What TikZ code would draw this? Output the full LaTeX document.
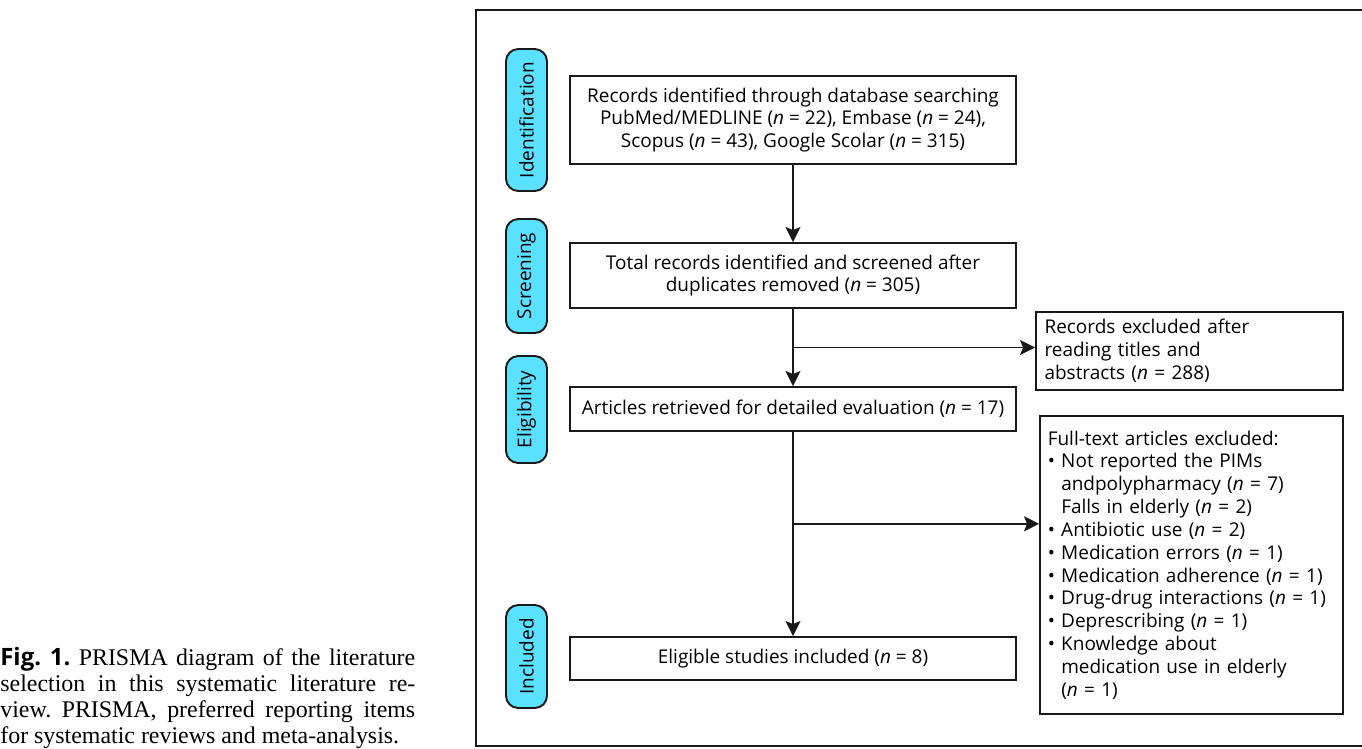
\documentclass[tikz,border=0pt]{standalone}
\usepackage{fontspec}
\setmainfont{Liberation Serif}
\newfontfamily\boxfont{Open Sans}
\usepackage{tikz}
\usetikzlibrary{arrows.meta, positioning, calc}
\definecolor{pillcyan}{RGB}{90,225,255}
\definecolor{lineblack}{RGB}{25,25,25}

\begin{document}
\begin{tikzpicture}[x=0.02cm, y=-0.02cm,
    stagebox/.style={draw=lineblack, line width=1.1pt, fill=white, font=\boxfont\fontsize{10.8}{13}\selectfont, align=center, inner sep=2pt},
    exclbox/.style={draw=lineblack, line width=1.1pt, fill=white, font=\boxfont\fontsize{10.8}{13}\selectfont, align=left, inner sep=2pt},
    phasepill/.style={draw=lineblack, line width=1.1pt, fill=pillcyan, rounded corners=7pt, rotate=90, font=\boxfont\fontsize{10.8}{13}\selectfont, minimum height=0.82cm, inner sep=1pt},
    flowarrow/.style={-{Stealth[length=0.3cm, width=0.3cm, inset=0.06cm]}, line width=1.1pt, lineblack}]
    \useasboundingbox (0,0) rectangle (1362,748);

    % Outer frame (open to the right)
    \draw[lineblack, line width=0.8pt] (1380,10) -- (476,10) -- (476,746) -- (1380,746);

    % Caption
    \node[anchor=south west, inner sep=0pt, text width=8.3cm, align=justify, font=\fontsize{13.6}{14.8}\selectfont\frenchspacing] (caption) at (0,749)
        {{\boxfont\bfseries Fig.~1.} PRISMA diagram of the literature\linebreak selection in this systematic literature re-\linebreak view. PRISMA, preferred reporting items\linebreak for systematic reviews and meta-analysis.};

    % Main column
    \node[stagebox, minimum width=8.92cm, minimum height=1.76cm] (records) at (793,120)
        {Records identified through database searching\\PubMed/MEDLINE (\textit{n} = 22), Embase (\textit{n} = 24),\\Scopus (\textit{n} = 43), Google Scolar (\textit{n} = 315)};
    \node[stagebox, minimum width=8.92cm, minimum height=1.3cm] (screened) at (793,275.5)
        {Total records identified and screened after\\duplicates removed (\textit{n} = 305)};
    \node[stagebox, minimum width=8.92cm, minimum height=0.88cm] (retrieved) at (793,409)
        {Articles retrieved for detailed evaluation (\textit{n} = 17)};
    \node[stagebox, minimum width=8.92cm, minimum height=0.86cm] (included) at (793,658.5)
        {Eligible studies included (\textit{n} = 8)};

    % Exclusion boxes
    \node[exclbox, text width=5.8cm, minimum width=6.14cm, minimum height=1.56cm] (excl1) at (1189.5,351)
        {Records excluded after\\reading titles and\\abstracts (\textit{n} = 288)};
    \node[exclbox, text width=5.75cm, minimum width=6.06cm, minimum height=5.96cm] (excl2) at (1191.5,565)
        {Full-text articles excluded:\\
         \textbullet\ Not reported the PIMs\\
         \hphantom{\textbullet\ }andpolypharmacy (\textit{n} = 7)\\
         \hphantom{\textbullet\ }Falls in elderly (\textit{n} = 2)\\
         \textbullet\ Antibiotic use (\textit{n} = 2)\\
         \textbullet\ Medication errors (\textit{n} = 1)\\
         \textbullet\ Medication adherence (\textit{n} = 1)\\
         \textbullet\ Drug-drug interactions (\textit{n} = 1)\\
         \textbullet\ Deprescribing (\textit{n} = 1)\\
         \textbullet\ Knowledge about\\
         \hphantom{\textbullet\ }medication use in elderly\\
         \hphantom{\textbullet\ }(\textit{n} = 1)};

    % Phase labels
    \node[phasepill, minimum width=2.84cm] (identification) at (526.5,120) {Identification};
    \node[phasepill, minimum width=2.28cm] (screening) at (526.5,276) {Screening};
    \node[phasepill, minimum width=2.14cm] (eligibility) at (526.5,409.5) {Eligibility};
    \node[phasepill, minimum width=2.06cm] (includedpill) at (526.5,656.5) {Included};

    % Connectors
    \coordinate (split1) at ($(screened.south)!0.5!(retrieved.north)$);
    \coordinate (split2) at ($(retrieved.south)!0.45!(included.north)$);
    \draw[flowarrow] (records) -- (screened);
    \draw[flowarrow] (screened) -- (retrieved);
    \draw[flowarrow] (retrieved) -- (included);
    \draw[flowarrow] (split1) -- (split1 -| excl1.west);
    \draw[flowarrow] (split2) -- (split2 -| excl2.west);
\end{tikzpicture}
\end{document}
